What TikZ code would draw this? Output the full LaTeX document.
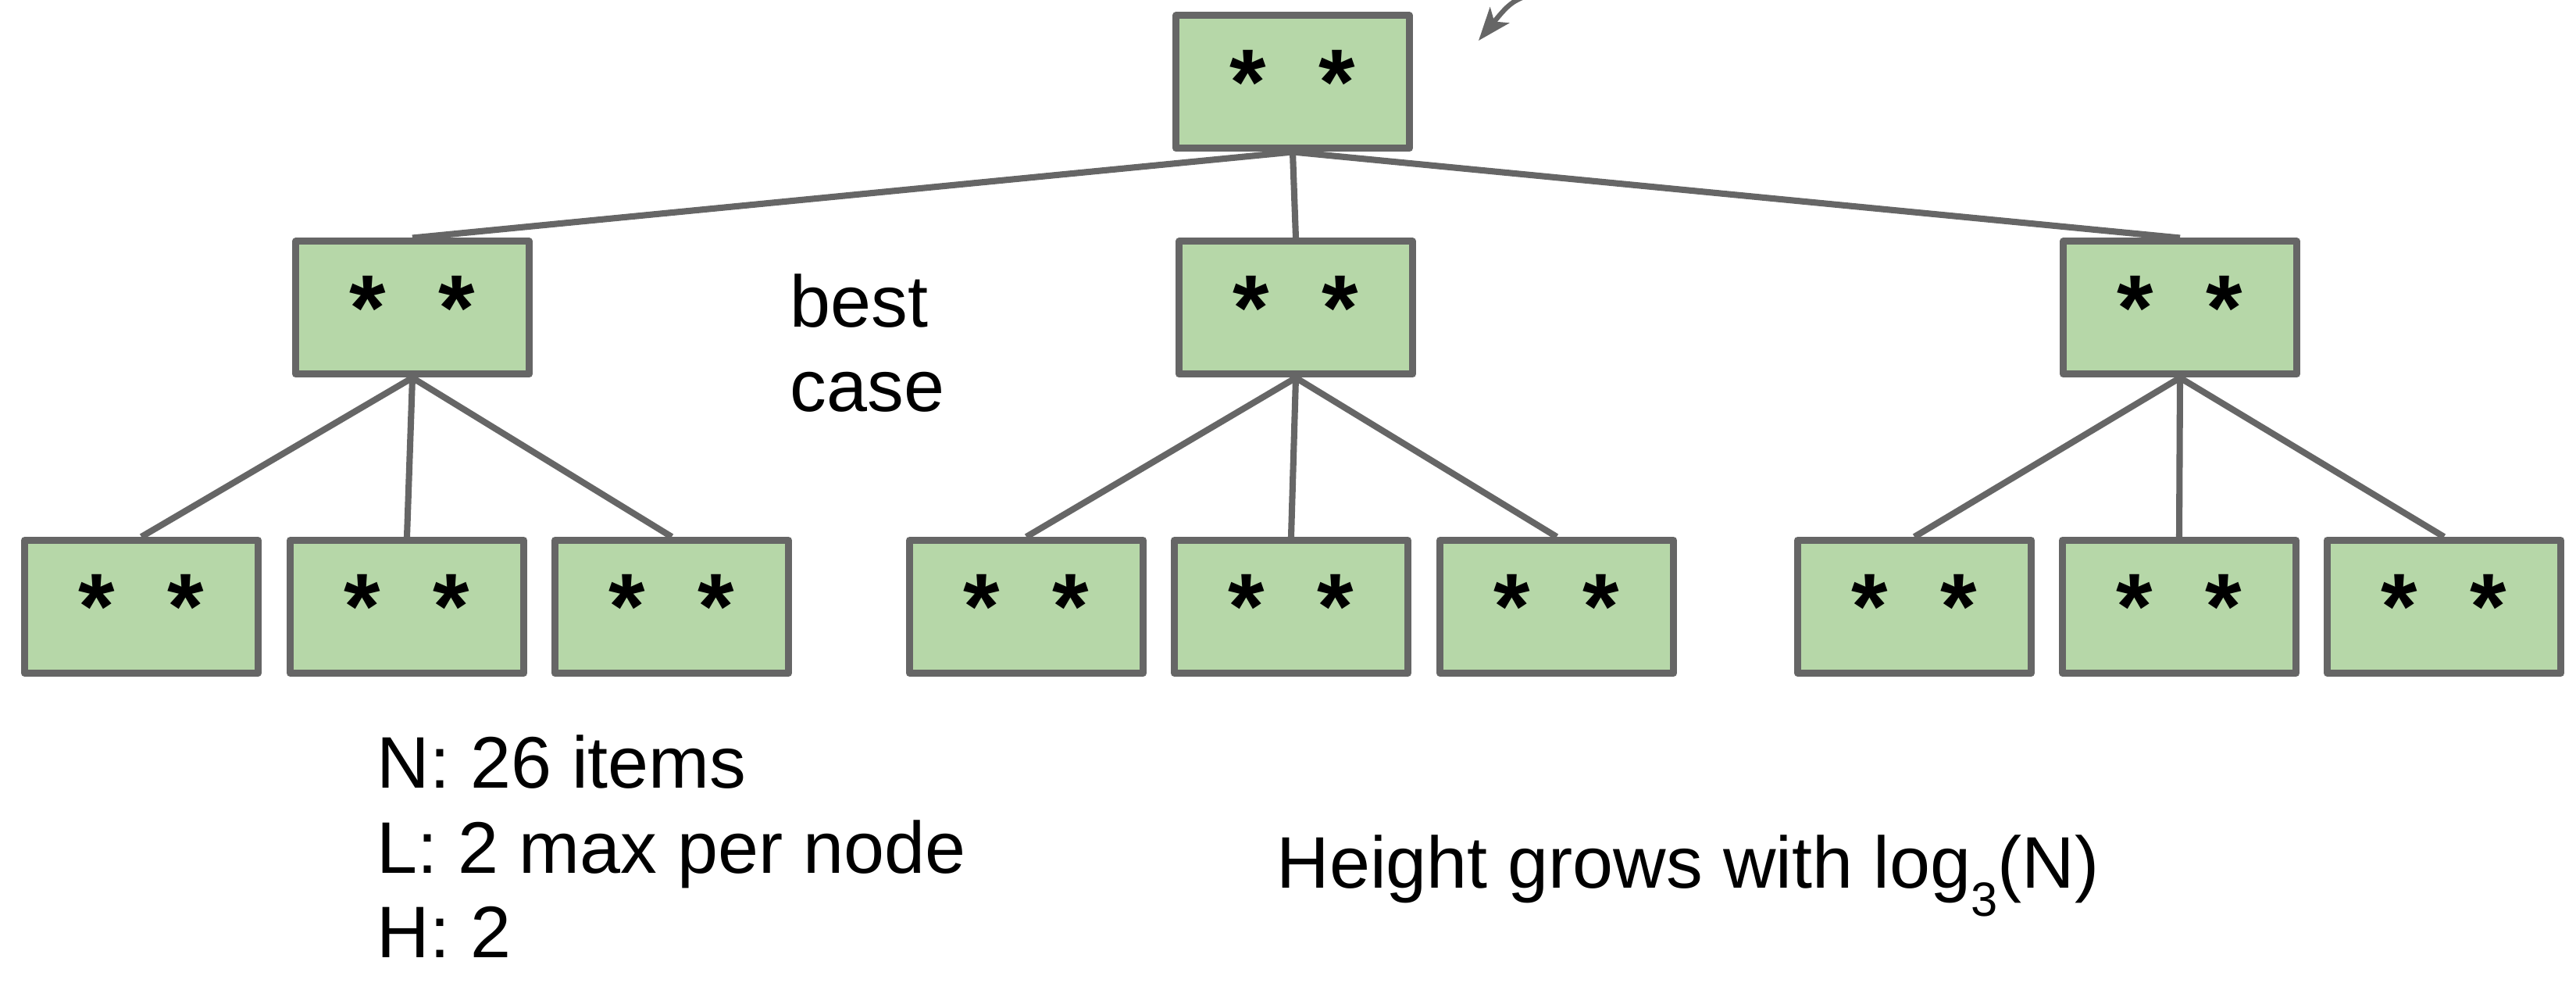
\documentclass[tikz,border=0pt]{standalone}
\usepackage{fontspec}
\setmainfont{Liberation Sans}
\usetikzlibrary{arrows.meta}
\definecolor{boxgreen}{HTML}{B6D7A8}
\definecolor{linegray}{HTML}{666666}

\begin{document}
\begin{tikzpicture}[>={Stealth[length=12pt,width=9pt,inset=3pt]},
    box/.style={draw=linegray,fill=boxgreen,line width=2.56pt,line join=round,
        minimum width=2.99cm,minimum height=1.70cm,inner sep=0pt,
        font=\fontsize{34}{34}\selectfont\bfseries},
    edge/.style={draw=linegray,line width=2.3pt},
    lbl/.style={font=\fontsize{26.6}{31}\selectfont,inner sep=0pt,align=left}]
        \useasboundingbox(0,0)rectangle(32.98,12.90);
        % root and second level
        \node[box](r) at(16.55,11.85) {*\hspace{0.68cm}*};
        \node[box](a) at(5.28,8.96) {*\hspace{0.68cm}*};
        \node[box](b) at(16.59,8.96) {*\hspace{0.68cm}*};
        \node[box](c) at(27.91,8.96) {*\hspace{0.68cm}*};
        % leaves
        \node[box](a1) at(1.81,5.135) {*\hspace{0.68cm}*};
        \node[box](a2) at(5.21,5.135) {*\hspace{0.68cm}*};
        \node[box](a3) at(8.60,5.135) {*\hspace{0.68cm}*};
        \node[box](b1) at(13.14,5.135) {*\hspace{0.68cm}*};
        \node[box](b2) at(16.53,5.135) {*\hspace{0.68cm}*};
        \node[box](b3) at(19.93,5.135) {*\hspace{0.68cm}*};
        \node[box](c1) at(24.51,5.135) {*\hspace{0.68cm}*};
        \node[box](c2) at(27.90,5.135) {*\hspace{0.68cm}*};
        \node[box](c3) at(31.29,5.135) {*\hspace{0.68cm}*};
        \draw[edge](r.south)--(a.north);
        \draw[edge](r.south)--(b.north);
        \draw[edge](r.south)--(c.north);
        \draw[edge](a.south)--(a1.north);
        \draw[edge](a.south)--(a2.north);
        \draw[edge](a.south)--(a3.north);
        \draw[edge](b.south)--(b1.north);
        \draw[edge](b.south)--(b2.north);
        \draw[edge](b.south)--(b3.north);
        \draw[edge](c.south)--(c1.north);
        \draw[edge](c.south)--(c2.north);
        \draw[edge](c.south)--(c3.north);
        % arrow coming in from above
        \coordinate(tail) at(20.3,13.1);
        \coordinate(tip) at(18.93,12.38);
        \draw[->,draw=linegray,line width=1.8pt](tail)..controls(19.4,12.95)..(tip);
        % labels
        \node[lbl,anchor=base west](best) at(10.11,7.63) {best\\case};
        \node[lbl,anchor=base west](info) at(4.82,0.64) {N: 26 items\\L: 2 max per node\\H: 2};
        \node[lbl,anchor=base west](grow) at(16.34,1.53) {Height grows with log\raisebox{-10pt}{\fontsize{17.5}{17.5}\selectfont 3}(N)};
    \end{tikzpicture}
\end{document}
